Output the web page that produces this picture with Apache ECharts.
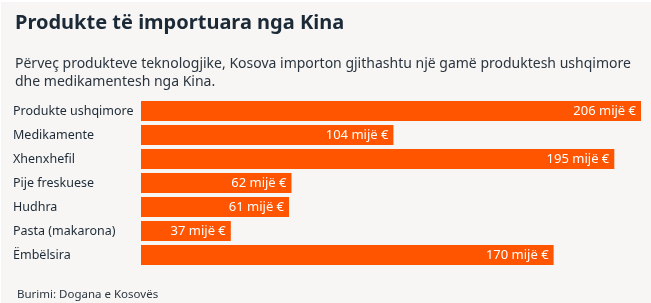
<!DOCTYPE html>
<html>
<head>
<meta charset="utf-8">
<script src="https://cdn.jsdelivr.net/npm/echarts@6/dist/echarts.min.js"></script>
<style>
  html, body { margin: 0; padding: 0; background: #ffffff; }
  #chart { position: absolute; left: 1px; top: 2px; width: 650px; height: 301px; }
</style>
</head>
<body>
<div id="chart"></div>
<script>
// ── Data ──────────────────────────────────────────
const categories = [
  'Produkte ushqimore',
  'Medikamente',
  'Xhenxhefil',
  'Pije freskuese',
  'Hudhra',
  'Pasta (makarona)',
  'Ëmbëlsira'
]
const values = [206, 104, 195, 62, 61, 37, 170]

const titleText = 'Produkte të importuara nga Kina'
const subText = 'Përveç produkteve teknologjike, Kosova importon gjithashtu një gamë produktesh ushqimore\ndhe medikamentesh nga Kina.'
const sourceText = 'Burimi: Dogana e Kosovës'

// ── Styles ────────────────────────────────────────
const BAR = '#ff5400'
const INK = '#1c2a37'
const FONT = '"Noto Sans", sans-serif'

const chart = echarts.init(document.getElementById('chart'), null, { renderer: 'canvas' })

chart.setOption({
  animation: false,
  backgroundColor: '#f7f6f4',
  textStyle: { fontFamily: FONT },
  title: [
    {
      text: titleText,
      left: 9,
      top: 6,
      textStyle: { fontSize: 20, fontWeight: 'bold', color: INK, fontFamily: FONT }
    },
    {
      text: subText,
      left: 9,
      top: 48,
      textStyle: { fontSize: 14, fontWeight: 'normal', color: '#2b3540', lineHeight: 18, fontFamily: FONT }
    },
    {
      text: sourceText,
      left: 11,
      top: 282,
      textStyle: { fontSize: 11.5, fontWeight: 'normal', color: '#2b3540', fontFamily: FONT }
    }
  ],
  grid: { left: 140, right: 10, top: 97, height: 168 },
  xAxis: {
    type: 'value',
    min: 0,
    max: 206,
    show: false
  },
  yAxis: {
    type: 'category',
    data: categories,
    inverse: true,
    axisLine: { show: false },
    axisTick: { show: false },
    axisLabel: {
      align: 'left',
      margin: 128,
      fontSize: 12.5,
      color: INK,
      fontFamily: FONT
    }
  },
  series: [
    {
      type: 'bar',
      data: values,
      barWidth: 20,
      itemStyle: { color: BAR },
      label: {
        show: true,
        position: 'insideRight',
        distance: 5,
        color: '#ffffff',
        fontSize: 13,
        fontFamily: FONT,
        formatter: p => p.value + ' mijë €'
      }
    }
  ]
})
</script>
</body>
</html>
